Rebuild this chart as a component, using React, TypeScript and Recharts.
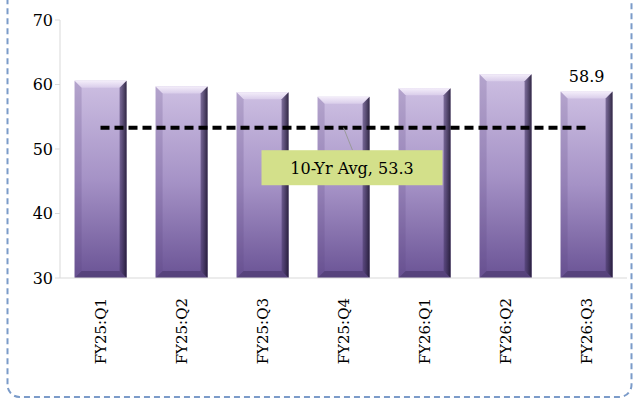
import React from "react";
import { ComposedChart, Bar, Line, XAxis, YAxis, LabelList } from "recharts";

const quarters = ["FY25:Q1", "FY25:Q2", "FY25:Q3", "FY25:Q4", "FY26:Q1", "FY26:Q2", "FY26:Q3"];
const values = [60.6, 59.7, 58.8, 58.1, 59.4, 61.6, 58.9];
const tenYrAvg = 53.3;
const yTicks = [30, 40, 50, 60, 70];

const data = quarters.map((q, i) => ({ q, v: values[i], avg: tenYrAvg }));

const SERIF = "'DejaVu Serif', Georgia, serif";

function BevelBar(props: any) {
  const { x, y, width: w, height: h } = props;
  if (h <= 0) return null;
  const b = 7;
  return (
    <g>
      <rect x={x} y={y} width={w} height={h} fill="url(#barFill)" />
      <polygon points={`${x},${y} ${x + w},${y} ${x + w - b},${y + b} ${x + b},${y + b}`} fill="url(#topBevel)" />
      <polygon points={`${x + w},${y} ${x + w},${y + h} ${x + w - b},${y + h - b} ${x + w - b},${y + b}`} fill="url(#rightBevel)" />
      <polygon points={`${x},${y} ${x + b},${y + b} ${x + b},${y + h - b} ${x},${y + h}`} fill="#5a4680" fillOpacity={0.22} />
      <polygon points={`${x},${y + h} ${x + b},${y + h - b} ${x + w - b},${y + h - b} ${x + w},${y + h}`} fill="#3b2c5c" fillOpacity={0.45} />
    </g>
  );
}

function XTick({ x, y, payload }: any) {
  return (
    <g transform={`translate(${x},${y + 12}) rotate(-90)`}>
      <text textAnchor="end" dy="0.35em" fontFamily={SERIF} fontSize={15} fill="#000">
        {payload.value}
      </text>
    </g>
  );
}

function AvgNote(props: any) {
  const { x, y, index } = props;
  if (index !== 3) return null;
  return (
    <g>
      <line x1={x} y1={y} x2={x + 9} y2={y + 22.5} stroke="#9a9a9a" strokeWidth={1} />
      <rect x={x - 82} y={y + 22.5} width={181} height={35} fill="#d3e08a" />
      <text x={x + 8.5} y={y + 46} textAnchor="middle" fontFamily={SERIF} fontSize={16} fill="#000">
        10-Yr Avg, {tenYrAvg}
      </text>
    </g>
  );
}

function LastLabel(props: any) {
  const { x, y, width, value, index } = props;
  if (index !== quarters.length - 1) return null;
  return (
    <text x={x + width / 2} y={y - 10} textAnchor="middle" fontFamily={SERIF} fontSize={16} fill="#000">
      {value}
    </text>
  );
}

export default function App() {
  return (
    <div style={{ position: "absolute", left: 0, top: 0, width: 633, height: 398, background: "#fff" }}>
      <svg width={633} height={398} style={{ position: "absolute", left: 0, top: 0 }}>
        <rect x={7.5} y={-20} width={624} height={417} rx={12} fill="none" stroke="#7b9bc9" strokeWidth={2} strokeDasharray="6 4" />
      </svg>
      <div style={{ position: "absolute", left: 0, top: 0 }}>
        <ComposedChart width={633} height={398} data={data} margin={{ top: 20, right: 6, bottom: 0, left: 0 }} barCategoryGap="18%">
          <defs>
            <linearGradient id="barFill" x1="0" y1="0" x2="0" y2="1">
              <stop offset="0%" stopColor="#cdbfe2" />
              <stop offset="50%" stopColor="#a592c6" />
              <stop offset="100%" stopColor="#6a5395" />
            </linearGradient>
            <linearGradient id="topBevel" x1="0" y1="0" x2="0" y2="1">
              <stop offset="0%" stopColor="#f4eefa" />
              <stop offset="100%" stopColor="#d9cdea" />
            </linearGradient>
            <linearGradient id="rightBevel" x1="0" y1="0" x2="1" y2="0">
              <stop offset="0%" stopColor="#4a3a6c" stopOpacity={0.6} />
              <stop offset="100%" stopColor="#1e1630" stopOpacity={0.9} />
            </linearGradient>
          </defs>
          <XAxis dataKey="q" height={120} tick={<XTick />} tickLine={false} axisLine={{ stroke: "#d9d9d9" }} interval={0} />
          <YAxis
            domain={[30, 70]}
            ticks={yTicks}
            width={60}
            tick={{ fontFamily: SERIF, fontSize: 16, fill: "#000" }}
            tickLine={{ stroke: "#d9d9d9" }}
            tickSize={5}
            axisLine={{ stroke: "#d9d9d9" }}
          />
          <Bar dataKey="v" shape={<BevelBar />} isAnimationActive={false}>
            <LabelList dataKey="v" content={<LastLabel />} />
          </Bar>
          <Line dataKey="avg" stroke="#000" strokeWidth={4} strokeDasharray="9 5" dot={false} activeDot={false} isAnimationActive={false}>
            <LabelList dataKey="avg" content={<AvgNote />} />
          </Line>
        </ComposedChart>
      </div>
    </div>
  );
}
